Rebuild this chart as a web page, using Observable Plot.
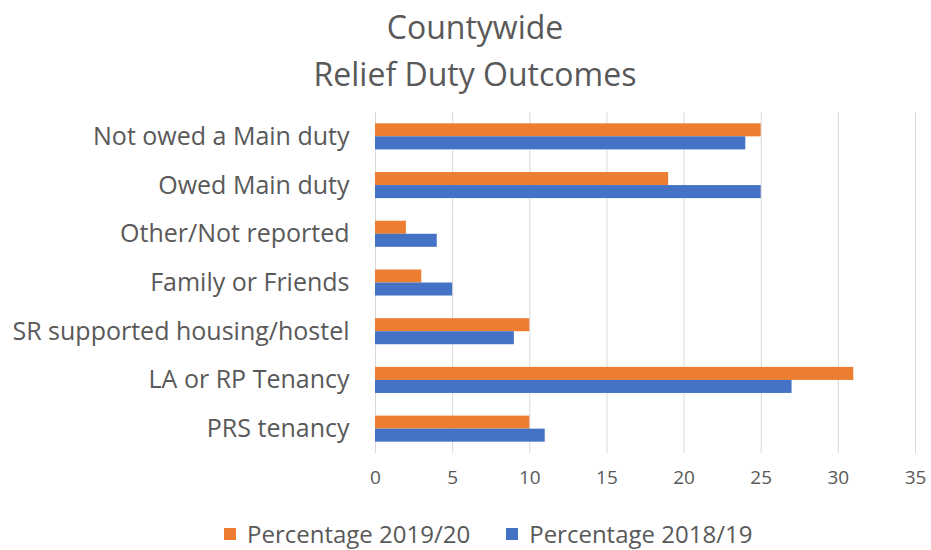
<!DOCTYPE html>
<html>
<head>
<meta charset="utf-8">
<script src="https://cdn.jsdelivr.net/npm/d3@7"></script>
<script src="https://cdn.jsdelivr.net/npm/@observablehq/plot@0.6"></script>
<style>
  body { margin: 0; background: #fff; font-family: "Open Sans", sans-serif; color: #595959; }
  #wrap { position: relative; width: 931px; height: 550px; overflow: hidden; }
  .title { position: absolute; left: 0; width: 950px; text-align: center; font-size: 32px; line-height: 1; white-space: nowrap; }
  #chart { position: absolute; left: 0; top: 100px; }
  #legend { position: absolute; top: 520px; left: 224px; display: flex; align-items: center; font-size: 24px; line-height: 28px; white-space: nowrap; }
  .sw { display: inline-block; width: 12px; height: 12px; margin-right: 11px; }
  .item { display: flex; align-items: center; margin-right: 36px; }
</style>
</head>
<body>
<div id="wrap">
  <div class="title" style="top:11px">Countywide</div>
  <div class="title" style="top:58px">Relief Duty Outcomes</div>
  <div id="chart"></div>
  <div id="legend"></div>
</div>
<script>
const categories = ["Not owed a Main duty", "Owed Main duty", "Other/Not reported", "Family or Friends", "SR supported housing/hostel", "LA or RP Tenancy", "PRS tenancy"];
const series = ["Percentage 2019/20", "Percentage 2018/19"];
const pct2019 = [25, 19, 2, 3, 10, 31, 10];
const pct2018 = [24, 25, 4, 5, 9, 27, 11];
const xTicks = [0, 5, 10, 15, 20, 25, 30, 35];
const colors = ["#ED7D31", "#4472C4"];

const rows = categories.flatMap((c, i) => [
  {category: c, series: series[0], value: pct2019[i]},
  {category: c, series: series[1], value: pct2018[i]}
]);

const chart = Plot.plot({
  width: 931,
  height: 405,
  marginLeft: 375,
  marginRight: 16,
  marginTop: 12,
  marginBottom: 52,
  style: {fontFamily: "'Open Sans', sans-serif", color: "#595959", background: "#fff"},
  x: {domain: [0, 35]},
  fy: {domain: categories, padding: 0, round: false},
  y: {domain: series, paddingInner: 0, paddingOuter: 0.87, round: false},
  color: {domain: series, range: colors},
  marks: [
    Plot.ruleX(xTicks, {stroke: "#d9d9d9", strokeWidth: 1}),
    Plot.barX(rows, {fy: "category", y: "series", x: "value", fill: "series"}),
    Plot.axisX({ticks: xTicks, tickSize: 0, tickPadding: 17, fontSize: 19, label: null, color: "#595959"}),
    Plot.axisY({ticks: [], label: null}),
    Plot.axisFy({anchor: "left", tickSize: 0, tickPadding: 26, fontSize: 25, label: null, color: "#595959"})
  ]
});
document.getElementById("chart").appendChild(chart);

const legend = document.getElementById("legend");
series.forEach((s, i) => {
  const item = document.createElement("span");
  item.className = "item";
  const sw = document.createElement("span");
  sw.className = "sw";
  sw.style.background = colors[i];
  item.appendChild(sw);
  item.appendChild(document.createTextNode(s));
  legend.appendChild(item);
});
</script>
</body>
</html>
